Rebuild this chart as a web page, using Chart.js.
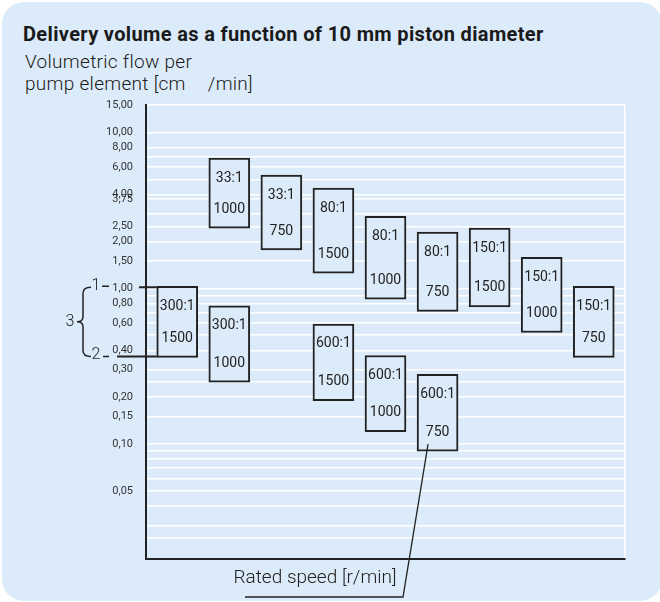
<!DOCTYPE html>
<html>
<head>
<meta charset="utf-8">
<title>Delivery volume as a function of 10 mm piston diameter</title>
<script src="https://cdn.jsdelivr.net/npm/chart.js@4"></script>
<style>
  html, body { margin: 0; padding: 0; background: #fff; }
  body { width: 660px; height: 602px; position: relative; overflow: hidden; font-family: Roboto, sans-serif; color: #1a1a1a; }
  .panel { position: absolute; left: 2px; top: 2px; width: 660px; height: 599px; border-radius: 22px; background: #dcebf9; }
  canvas { position: absolute; left: 0; top: 0; }
  .title { position: absolute; left: 23px; top: 22px; font-size: 20px; font-weight: 700; letter-spacing: 0.35px; white-space: nowrap; }
  .ylabel { position: absolute; left: 25px; top: 51px; font-size: 19px; font-weight: 300; letter-spacing: 0.3px; line-height: 22px; white-space: nowrap; }
</style>
</head>
<body>
<div class="panel"></div>
<div class="title">Delivery volume as a function of 10 mm piston diameter</div>
<div class="ylabel">Volumetric flow per<br>pump element [cm<span style="display:inline-block;width:22px"></span>/min]</div>
<canvas id="chart" width="660" height="602"></canvas>
<script>
// y axis: labelled ticks and extra grid lines (cm3/min)
const tickLabels = [15, 10, 8, 6, 4, 3.75, 2.5, 2, 1.5, 1, 0.8, 0.6, 0.4, 0.3, 0.2, 0.15, 0.1, 0.05];
const gridValues = [15, 10, 8, 7, 6, 5, 4, 3.75, 3, 2.5, 2, 1.5, 1, 0.9, 0.8, 0.7, 0.6, 0.5, 0.4, 0.3, 0.25,
  0.2, 0.15, 0.1, 0.09, 0.08, 0.07, 0.06, 0.05, 0.04, 0.03, 0.025];

// upper row of boxes (33:1, 80:1, 150:1)
const upperCol = [2, 3, 4, 5, 6, 7, 8, 9];
const upperRatio = ['33:1', '33:1', '80:1', '80:1', '80:1', '150:1', '150:1', '150:1'];
const upperSpeed = [1000, 750, 1500, 1000, 750, 1500, 1000, 750];
const upperMax = [6.84, 5.32, 4.39, 2.9, 2.29, 2.43, 1.58, 1.03];
const upperMin = [2.43, 1.76, 1.25, 0.85, 0.71, 0.76, 0.52, 0.36];

// lower row of boxes (300:1, 600:1)
const lowerCol = [1, 2, 4, 5, 6];
const lowerRatio = ['300:1', '300:1', '600:1', '600:1', '600:1'];
const lowerSpeed = [1500, 1000, 1500, 1000, 750];
const lowerMax = [1.03, 0.77, 0.59, 0.37, 0.28];
const lowerMin = [0.36, 0.25, 0.19, 0.12, 0.09];

const INK = '#222';
const BG = '#dcebf9';

const boxDataset = (cols, mins, maxs, ratios, speeds) => ({
  data: cols.map((c, i) => ({ x: c, y: [mins[i], maxs[i]] })),
  ratios, speeds,
  backgroundColor: BG,
  borderColor: INK,
  borderWidth: 2,
  borderSkipped: false,
  barThickness: 41,
  grouped: false,
});

const annotations = {
  id: 'annotations',
  afterDatasetsDraw(chart) {
    const { ctx, chartArea } = chart;
    const L = chartArea.left, B = chartArea.bottom;
    ctx.save();
    ctx.fillStyle = INK;
    ctx.strokeStyle = INK;
    ctx.textAlign = 'center';
    ctx.textBaseline = 'middle';

    // box texts
    ctx.font = '14px Roboto';
    chart.data.datasets.forEach((ds, i) => {
      chart.getDatasetMeta(i).data.forEach((bar, j) => {
        ctx.fillText(ds.ratios[j], bar.x, bar.y + 20);
        ctx.fillText(String(ds.speeds[j]), bar.x, bar.base - 19);
      });
    });

    // range marks 1, 2 and brace 3 on the 300:1 / 1500 box
    const ref = chart.getDatasetMeta(1).data[0];
    const top = ref.y + 1, bot = ref.base - 1, mid = (top + bot) / 2;
    const boxLeft = ref.x - ref.width / 2;
    ctx.lineWidth = 2;
    ctx.beginPath();
    ctx.moveTo(L - 7, top); ctx.lineTo(boxLeft, top);
    ctx.moveTo(L - 29, bot); ctx.lineTo(boxLeft, bot);
    ctx.stroke();
    ctx.lineWidth = 1.5;
    ctx.beginPath();
    ctx.moveTo(L - 44, top - 1); ctx.lineTo(L - 37, top - 1);
    ctx.moveTo(L - 43, bot); ctx.lineTo(L - 37, bot);
    ctx.stroke();
    const x0 = L - 55, xm = L - 63, xp = L - 69;
    ctx.beginPath();
    ctx.moveTo(x0, top);
    ctx.quadraticCurveTo(xm, top, xm, top + 6);
    ctx.lineTo(xm, mid - 5);
    ctx.quadraticCurveTo(xm, mid, xp, mid);
    ctx.quadraticCurveTo(xm, mid, xm, mid + 5);
    ctx.lineTo(xm, bot - 6);
    ctx.quadraticCurveTo(xm, bot, x0, bot);
    ctx.stroke();
    ctx.font = '300 16px Roboto';
    ctx.fillText('1', L - 50, top - 1);
    ctx.fillText('2', L - 50, bot - 1);
    ctx.fillText('3', L - 76, mid);

    // x axis caption with leader to the 600:1 / 750 box
    ctx.font = '300 19px Roboto';
    ctx.fillText('Rated speed [r/min]', L + 169, B + 19);
    const tgt = chart.getDatasetMeta(1).data[4];
    ctx.lineWidth = 1.3;
    ctx.beginPath();
    ctx.moveTo(L + 99, B + 38);
    ctx.lineTo(L + 257, B + 38);
    ctx.lineTo(tgt.x - 9.5, tgt.base - 7);
    ctx.stroke();
    ctx.restore();
  }
};

new Chart(document.getElementById('chart'), {
  type: 'bar',
  data: {
    datasets: [
      boxDataset(upperCol, upperMin, upperMax, upperRatio, upperSpeed),
      boxDataset(lowerCol, lowerMin, lowerMax, lowerRatio, lowerSpeed),
    ]
  },
  options: {
    responsive: false,
    animation: false,
    layout: { padding: { top: 105, right: 35, bottom: 43, left: 0 } },
    plugins: { legend: { display: false }, tooltip: { enabled: false } },
    scales: {
      x: {
        type: 'linear',
        min: 0.4,
        max: 9.6,
        offset: false,
        afterBuildTicks: (s) => { s.ticks = [{ value: 9.6 }]; },
        afterFit: (s) => { s.height = 0; },
        ticks: { display: false },
        grid: { color: '#ffffff', lineWidth: 1.5, drawTicks: false, offset: false },
        border: { color: INK, width: 2 },
      },
      y: {
        type: 'logarithmic',
        min: 0.0183,
        max: 15,
        afterBuildTicks: (s) => { s.ticks = gridValues.map(v => ({ value: v })); },
        afterFit: (s) => { s.width = 146; },
        ticks: {
          autoSkip: false,
          padding: 13,
          color: '#333',
          font: { family: 'Roboto', size: 11 },
          callback: (v) => tickLabels.includes(v) ? v.toFixed(2).replace('.', ',') : '',
        },
        grid: { color: '#ffffff', lineWidth: 1.5, drawTicks: false },
        border: { color: INK, width: 2 },
      }
    }
  },
  plugins: [annotations]
});
</script>
</body>
</html>
